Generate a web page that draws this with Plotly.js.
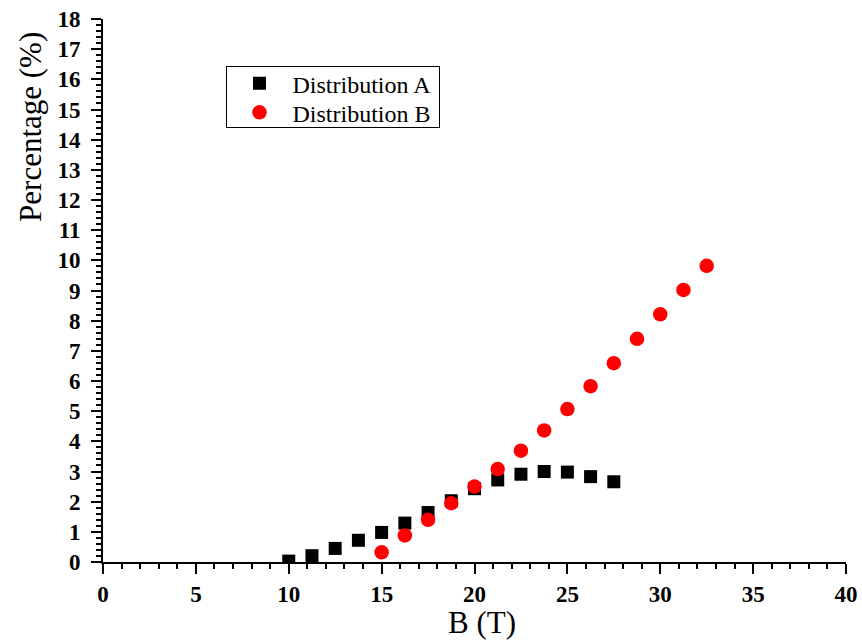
<!DOCTYPE html>
<html><head><meta charset="utf-8">
<script src="https://cdn.plot.ly/plotly-3.0.1.min.js"></script>
<style>body{margin:0;background:#fff}#plot{width:862px;height:641px}</style>
</head><body><div id="plot"></div>
<script>
const xA = [10, 11.25, 12.5, 13.75, 15, 16.25, 17.5, 18.75, 20, 21.25, 22.5, 23.75, 25, 26.25, 27.5];
const yA = [0.03, 0.21, 0.45, 0.72, 0.98, 1.29, 1.64, 2.03, 2.43, 2.72, 2.91, 3.0, 2.98, 2.83, 2.66];
const xB = [15, 16.25, 17.5, 18.75, 20, 21.25, 22.5, 23.75, 25, 26.25, 27.5, 28.75, 30, 31.25, 32.5];
const yB = [0.32, 0.88, 1.40, 1.95, 2.50, 3.08, 3.69, 4.36, 5.07, 5.83, 6.59, 7.40, 8.21, 9.02, 9.82];
const nameA = 'Distribution A', nameB = 'Distribution B';
const xTitle = 'B (T)', yTitle = 'Percentage (%)';

const font = 'Liberation Serif';
const data = [
  {x: xA, y: yA, name: nameA, type: 'scatter', mode: 'markers', cliponaxis: true,
   marker: {symbol: 'square', size: 13, color: '#000'}},
  {x: xB, y: yB, name: nameB, type: 'scatter', mode: 'markers', cliponaxis: true,
   marker: {symbol: 'circle', size: 14.5, color: '#ff0000'}}
];
const axisCommon = {
  showgrid: false, zeroline: false, showline: true, linecolor: '#000', linewidth: 2,
  ticks: 'outside', tickcolor: '#000', tickwidth: 2, ticklen: 10,
  tickfont: {family: font, size: 23, color: '#000', weight: 'bold'},
  mirror: false
};
const layout = {
  width: 862, height: 641,
  margin: {l: 103, r: 16, t: 19, b: 79},
  paper_bgcolor: '#fff', plot_bgcolor: '#fff',
  showlegend: true,
  legend: {x: (225.5 - 103) / 743, y: (562.3 - 65.7) / 543.3, xanchor: 'left', yanchor: 'top',
    bordercolor: '#000', borderwidth: 1, bgcolor: '#fff', itemwidth: 56,
    font: {family: font, size: 24, color: '#000'}, tracegroupgap: 0},
  xaxis: Object.assign({}, axisCommon, {
    range: [0, 40], dtick: 5, tick0: 0,
    minor: {dtick: 1, ticks: 'outside', ticklen: 5, tickwidth: 2, tickcolor: '#000'}
  }),
  yaxis: Object.assign({}, axisCommon, {
    range: [0, 18], dtick: 1, tick0: 0, ticklabelstandoff: 6,
    minor: {dtick: 0.2, ticks: 'outside', ticklen: 5, tickwidth: 2, tickcolor: '#000'}
  }),
  annotations: [
    {text: xTitle, xref: 'paper', yref: 'paper', x: (482 - 103) / 743, y: (562.3 - 623) / 543.3,
     xanchor: 'center', yanchor: 'middle', showarrow: false,
     font: {family: font, size: 31, color: '#000'}},
    {text: yTitle, xref: 'paper', yref: 'paper', x: (31 - 103) / 743, y: (562.3 - 127) / 543.3,
     xanchor: 'center', yanchor: 'middle', showarrow: false, textangle: -90,
     font: {family: font, size: 31, color: '#000'}}
  ]
};
Plotly.newPlot('plot', data, layout, {staticPlot: true}).then(gd => {
  // tighten legend row spacing to match the reference
  const lg = gd.querySelector('.legend');
  if (!lg) return;
  const rows = [17.6, 46.6];
  lg.querySelectorAll('g.traces').forEach((t, i) => {
    const m = /translate\(\s*([-\d.]+)[ ,]+([-\d.]+)\s*\)/.exec(t.getAttribute('transform') || '');
    if (m && rows[i] !== undefined) t.setAttribute('transform', 'translate(' + m[1] + ',' + rows[i] + ')');
  });
  const bg = lg.querySelector('rect.bg');
  if (bg) { bg.setAttribute('height', 61); bg.setAttribute('width', 213); }
});
</script></body></html>
